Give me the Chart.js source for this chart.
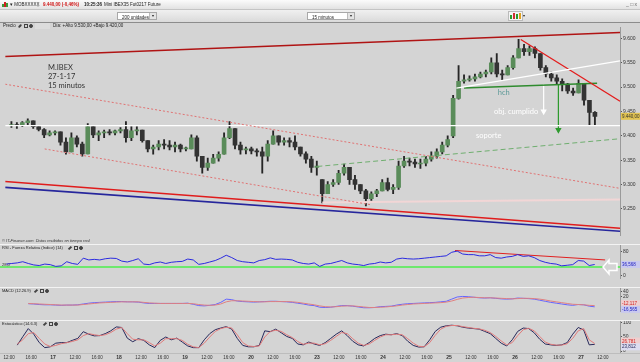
<!DOCTYPE html>
<html>
<head>
<meta charset="utf-8">
<script src="https://cdn.jsdelivr.net/npm/chart.js@4.4.1/dist/chart.umd.min.js"></script>
<style>
body{margin:0;background:#d4d4d4;font-family:"Liberation Sans",Arial,sans-serif;color:#222}
#wrap{position:relative;width:640px;height:362px;overflow:hidden}
canvas{position:absolute;left:0}
.a{position:absolute;white-space:nowrap;line-height:1}
.t{font-size:4.5px}
.box{position:absolute;background:#fff;border:1px solid #a8a8a8;font-size:4.5px;padding:1.5px 0 0 4px;box-sizing:border-box}
.dd{position:absolute;right:0;top:0;width:6px;height:6px;background:#e4e4e4;border-left:1px solid #bbb;font-size:4px;text-align:center}
.ico{position:absolute;width:4px;height:4px;border:1px solid #444;box-sizing:border-box}
.sep{position:absolute;left:0;width:640px;height:1px;background:#f3f3f3}
</style>
</head>
<body>
<div id="wrap">
  <canvas id="cPrice" width="640" height="222" style="top:22px"></canvas>
  <canvas id="cRsi" width="640" height="42" style="top:245px"></canvas>
  <canvas id="cMacd" width="640" height="32" style="top:288px"></canvas>
  <canvas id="cSto" width="640" height="41" style="top:321px"></canvas>

  <!-- toolbar -->
  <div class="a" style="left:0;top:0;width:640px;height:9px;background:linear-gradient(#fbfbfb,#e2e2e2);border-bottom:1px solid #c4c4c4"></div>
  <div class="a" style="left:0;top:10px;width:640px;height:12px;background:linear-gradient(#f0f0f0,#dadada);border-bottom:1px solid #8c8c8c"></div>
  <div class="a" style="left:2px;top:4px;width:2px;height:3px;background:#3a9a3a"></div>
  <div class="a" style="left:4px;top:2px;width:2px;height:5px;background:#d02020"></div>
  <div class="a" style="left:6px;top:3px;width:2px;height:4px;background:#3a9a3a"></div>
  <div class="a t" style="left:10px;top:2.5px">▾ MOBXXXXX</div>
  <div class="a t" style="left:37px;top:2.5px;color:#999">||</div>
  <div class="a t" style="left:43px;top:2.5px;font-weight:bold;color:#d01010">9.440,00 (-0,46%)</div>
  <div class="a t" style="left:84px;top:2.5px;font-weight:bold">10:25:36</div>
  <div class="a t" style="left:104px;top:2.5px">Mini IBEX35 Fut0217 Future</div>
  <div class="a" style="left:626px;top:2px;font-size:5px;color:#666">_ □ x</div>
  <div class="box" style="left:117px;top:12px;width:40px;height:8px">200 unidades<span class="dd">▾</span></div>
  <div class="box" style="left:307px;top:12px;width:48px;height:8px">15 minutos<span class="dd">▾</span></div>
  <div class="a" style="left:508px;top:11px;width:15px;height:10px;background:#f4f4f4;border:1px solid #bbb;box-sizing:border-box"></div>
  <div class="a" style="left:510px;top:15px;width:2px;height:4px;background:#2a9a2a"></div>
  <div class="a" style="left:513px;top:13px;width:2px;height:6px;background:#d03030"></div>
  <div class="a" style="left:516px;top:14px;width:2px;height:5px;background:#2a9a2a"></div>
  <div class="a" style="left:519px;top:13px;width:2px;height:6px;background:#e0a020"></div>
  <div class="a" style="left:523px;top:14px;font-size:4px">▾</div>

  <!-- panel headers -->
  <div class="a t" style="left:3px;top:24px">Precio</div>
  <div class="ico" style="left:19px;top:24px;border-radius:1px;transform:rotate(45deg);width:2px"></div>
  <div class="ico" style="left:24px;top:24px"></div>
  <div class="ico" style="left:29px;top:24px;border-radius:50%;background:#444"></div>
  <div class="a" style="left:35px;top:23px;width:15px;height:6px;background:#dcdcdc"></div>
  <div class="a t" style="left:53px;top:24px">Día: +Alto 9.530,00 +Bajo 9.420,00</div>
  <div class="a" style="left:2px;top:239px;font-size:4px;font-style:italic;color:#333">© IT-Finance.com&nbsp; Datos recibidos en tiempo real</div>

  <div class="sep" style="top:244px"></div>
  <div class="a" style="left:2px;top:246px;font-size:4px">RSI - Fuerza Relativa (Índice) (14)</div>
  <div class="ico" style="left:69px;top:246px;width:2px;transform:rotate(45deg)"></div>
  <div class="ico" style="left:74px;top:246px"></div>
  <div class="ico" style="left:79px;top:246px;border-radius:50%;background:#444"></div>

  <div class="sep" style="top:287px"></div>
  <div class="a" style="left:2px;top:289px;font-size:4px">MACD (12.26.9)</div>
  <div class="ico" style="left:35px;top:289px;width:2px;transform:rotate(45deg)"></div>
  <div class="ico" style="left:40px;top:289px"></div>
  <div class="ico" style="left:45px;top:289px;border-radius:50%;background:#444"></div>

  <div class="sep" style="top:320px"></div>
  <div class="a" style="left:2px;top:322px;font-size:4px">Estocástico (14.6.3)</div>
  <div class="ico" style="left:44px;top:322px;width:2px;transform:rotate(45deg)"></div>
  <div class="ico" style="left:49px;top:322px"></div>
  <div class="ico" style="left:54px;top:322px;border-radius:50%;background:#444"></div>
  <div class="sep" style="top:353px;background:#bdbdbd"></div>
</div>

<script>
// hours are counted from 16 Jan 08:00, 12 trading hours per session
const dayLabels = ['16', '17', '18', '19', '20', '23', '24', '25', '26', '27'];
const hourLabels = ['12:00', '16:00'];
const priceTicks = [9250, 9300, 9350, 9400, 9450, 9500, 9550, 9600];
const rsiTicks = [0, 20, 40, 60, 80, 100];
const macdTicks = [20, 40];
const stochTicks = [0, 50, 100];
const firstHour = 3;

const opens = [9421,9423,9421,9427,9431,9419,9413,9402,9406,
  9408,9387,9367,9396,9383,9363,9419,9402,9406,9408,9406,9410,
  9413,9396,9410,9412,9390,9373,9377,9383,9381,9377,9381,9373,
  9373,9396,9358,9335,9344,9354,9362,9396,9415,9381,9371,9373,
  9369,9367,9358,9383,9400,9387,9390,9387,9377,9363,9352,9335,
  9310,9281,9300,9304,9323,9335,9310,9300,9287,9271,9281,9287,
  9304,9290,9294,9338,9348,9346,9342,9344,9352,9358,9367,9381,
  9400,9477,9512,9515,9517,9521,9527,9531,9550,9527,9525,9540,
  9560,9579,9573,9579,9569,9540,9527,9519,9512,9506,9492,9488,
  9508,9473,9448];
const highs = [9429,9427,9429,9435,9431,9421,9415,9410,9410,
  9408,9396,9406,9400,9387,9425,9421,9410,9412,9413,9412,9417,
  9429,9419,9419,9412,9390,9381,9390,9392,9390,9387,9383,9377,
  9402,9400,9358,9354,9362,9367,9406,9429,9415,9387,9377,9377,
  9373,9377,9390,9410,9400,9396,9396,9400,9377,9367,9358,9348,
  9310,9306,9310,9329,9342,9335,9319,9300,9290,9285,9290,9310,
  9313,9300,9348,9358,9354,9352,9352,9358,9367,9373,9387,9400,
  9483,9544,9525,9523,9527,9531,9535,9560,9569,9535,9544,9565,
  9598,9588,9585,9583,9569,9544,9531,9525,9517,9508,9498,9515,
  9508,9473,9450];
const lows = [9417,9415,9419,9423,9415,9410,9396,9400,9402,
  9381,9362,9367,9377,9358,9363,9396,9390,9396,9402,9402,9406,
  9387,9390,9402,9387,9367,9362,9371,9373,9371,9367,9367,9369,
  9373,9348,9323,9329,9344,9348,9362,9394,9373,9362,9363,9363,
  9358,9323,9348,9383,9381,9381,9377,9371,9358,9344,9325,9319,
  9262,9281,9296,9300,9319,9300,9290,9281,9256,9267,9275,9287,
  9287,9281,9290,9335,9338,9335,9333,9338,9348,9354,9363,9377,
  9396,9475,9508,9512,9512,9519,9521,9527,9521,9515,9525,9537,
  9560,9565,9565,9560,9535,9521,9512,9506,9492,9487,9483,9488,
  9463,9421,9421];
const closes = [9423,9421,9427,9431,9419,9413,9402,9406,9408,
  9387,9367,9396,9383,9363,9419,9402,9406,9408,9406,9410,9413,
  9396,9410,9412,9390,9373,9377,9383,9381,9377,9381,9373,9373,
  9396,9358,9335,9344,9354,9362,9396,9415,9381,9371,9373,9369,
  9367,9358,9383,9400,9387,9390,9387,9377,9363,9352,9335,9338,
  9281,9300,9304,9323,9335,9310,9300,9287,9271,9281,9287,9304,
  9290,9294,9338,9348,9346,9342,9344,9352,9358,9367,9381,9392,
  9477,9512,9515,9517,9521,9527,9531,9550,9527,9525,9540,9560,
  9579,9573,9579,9569,9540,9527,9519,9512,9506,9492,9488,9508,
  9473,9448,9440];

const rsi = [38,40,42,46,40,35,33,38,36,
  30,32,46,40,37,58,52,54,52,56,58,57,
  48,45,50,56,38,36,42,45,40,44,46,47,
  55,52,37,40,45,50,58,68,60,50,46,44,
  42,50,53,59,54,55,54,52,44,40,38,42,
  30,38,40,45,50,42,38,36,33,38,40,45,
  42,44,55,58,56,55,56,58,60,62,64,66,
  78,82,72,70,70,66,66,70,60,58,62,64,
  70,64,66,60,50,44,40,38,32,34,36,50,
  48,33,36.568];
const rsiLevel = 28;
const rsiTrend = [[85.1, 84], [112.4, 52]];

const macd = [null,null,null,null,-5,-6,-8,-9,-9,
  -10,-11,-10,-10,-9,-6,-3,-1,0,1,2,3,
  3,2,2,1,-2,-4,-4,-4,-4,-4,-4,-4,
  -3,-7,-12,-13,-11,-8,0,12,10,5,3,2,
  1,2,3,4,4,3,2,0,-3,-6,-10,-12,
  -18,-19,-18,-15,-12,-12,-14,-17,-20,-20,-19,-16,
  -15,-14,-10,-7,-5,-4,-3,-2,-1,0,2,4,
  12,20,22,21,19,17,16,17,15,13,12,13,
  16,15,14,12,8,4,0,-3,-6,-9,-11,-8,
  -9,-14,-16.565];
const macdSignal = [null,null,null,null,-4,-5,-6,-7,-8,
  -9,-10,-10,-10,-10,-8,-6,-4,-2,-1,0,1,
  2,2,2,2,0,-2,-3,-4,-4,-4,-4,-4,
  -4,-5,-8,-10,-11,-10,-6,2,6,6,5,4,
  3,2,2,3,3,3,3,2,0,-3,-6,-9,
  -13,-16,-17,-16,-14,-13,-13,-15,-17,-19,-19,-18,
  -17,-15,-13,-10,-8,-6,-5,-4,-3,-2,-1,1,
  5,11,16,18,19,18,17,17,16,15,14,13,
  14,15,15,14,12,9,5,2,-1,-4,-7,-8,
  -9,-11,-12.117];

const stochK = [null,null,21,51,80,60,30,12,15,
  28,30,30,38,45,69,60,54,55,62,72,86,
  84,46,33,44,38,22,12,38,50,40,46,32,
  18,12,12,40,62,76,82,87,78,45,20,15,
  15,20,72,69,78,65,52,45,25,22,32,25,
  20,30,45,60,72,55,35,22,18,30,45,55,
  60,58,62,55,35,20,14,15,40,70,85,90,
  92,90,85,82,80,78,70,62,45,28,18,40,
  70,82,80,65,42,25,22,20,22,30,60,84,
  75,22,23.812];
const stochD = [null,null,25,40,62,66,45,25,16,
  20,26,30,34,40,55,62,58,55,58,66,78,
  84,62,42,40,40,30,18,28,44,44,44,38,
  24,15,12,28,50,70,80,85,82,58,30,18,
  16,18,50,70,74,70,58,48,34,24,28,28,
  22,26,38,52,66,62,44,28,20,25,38,50,
  58,58,60,58,44,28,17,15,30,56,78,88,
  91,91,87,84,81,79,74,66,52,36,22,30,
  55,76,81,72,52,32,24,21,21,26,45,72,
  80,40,26.781];

// drawn lines: [hour, price] end points
const topChannel = [[2.36, 9563], [115.1, 9612]];
const fallLine = [[96.9, 9598], [115.1, 9471]];
const riseLine = [[85.1, 9498], [115.1, 9554]];
const neckLine = [[86.5, 9498], [110.9, 9508]];
const supportLine = [[2.36, 9421], [115.1, 9421]];
const greenDashed = [[59.6, 9337], [115.1, 9394]];
const dotUpper = [[2.36, 9506], [115.1, 9292]];
const dotLower = [[9.6, 9373], [69.6, 9258]];
const pinkLine = [[60.5, 9263], [115.1, 9269]];
const redLow = [[2.36, 9306], [115.1, 9210]];
const blueLow = [[2.36, 9294], [115.1, 9204]];
const whiteArrow = [[101.1, 9506], [101.1, 9450]];
const greenArrow = [[103.8, 9506], [103.8, 9412]];

const notes = [
  { text: 'M.IBEX', x: 10.2, y: 9540, color: '#333' },
  { text: '27-1-17', x: 10.2, y: 9522, color: '#333' },
  { text: '15 minutos', x: 10.2, y: 9503, color: '#333' },
  { text: 'hch', x: 92.7, y: 9488, color: '#5e9a98' },
  { text: 'obj. cumplido', x: 92.0, y: 9450, color: '#ffffff' },
  { text: 'soporte', x: 88.7, y: 9400, color: '#ffffff' }
];

const xMin = 2.36, xMax = 115.1;
const F = '"Liberation Sans", Arial, sans-serif';
const hourX = closes.map((_, i) => firstHour + i + 0.5);

function fmtNum(v, dec) {
  const s = Math.abs(v).toFixed(dec).split('.');
  let n = s[0];
  if (n.length > 3) n = n.slice(0, -3) + '.' + n.slice(-3);
  return (v < 0 ? '-' : '') + n + (dec ? ',' + s[1] : '');
}

function seg(pts, color, width, dash) {
  return {
    type: 'line', data: pts.map(p => ({ x: p[0], y: p[1] })),
    borderColor: color, borderWidth: width, borderDash: dash || [],
    pointRadius: 0, fill: false, clip: 0, order: 1
  };
}
function arrow(pts, color) {
  const d = seg(pts, color, 1.2);
  d.pointRadius = [0, 2.5];
  d.pointStyle = 'triangle';
  d.rotation = 180;
  d.pointBackgroundColor = color;
  d.pointBorderColor = color;
  return d;
}
function series(vals, color) {
  return {
    type: 'line', data: vals.map((v, i) => ({ x: hourX[i], y: v })),
    borderColor: color, borderWidth: 1, pointRadius: 0, fill: false, tension: 0, clip: 0
  };
}

// text notes, value tags and the RSI arrow
const overlay = {
  id: 'overlay',
  afterDatasetsDraw(chart, args, opts) {
    const { ctx, scales: { x, y } } = chart;
    ctx.save();
    (opts.notes || []).forEach(n => {
      ctx.font = n.font || '7.5px Lato, sans-serif';
      ctx.fillStyle = n.color;
      ctx.textBaseline = 'middle';
      ctx.textAlign = 'left';
      ctx.fillText(n.text, n.px !== undefined ? n.px : x.getPixelForValue(n.x), y.getPixelForValue(n.y));
    });
    if (opts.arrow !== undefined) {
      const cy = y.getPixelForValue(opts.arrow), r = chart.chartArea.right;
      ctx.beginPath();
      ctx.moveTo(r - 17, cy);
      ctx.lineTo(r - 11, cy - 7);
      ctx.lineTo(r - 11, cy - 3.5);
      ctx.lineTo(r - 3, cy - 3.5);
      ctx.lineTo(r - 3, cy + 3.5);
      ctx.lineTo(r - 11, cy + 3.5);
      ctx.lineTo(r - 11, cy + 7);
      ctx.closePath();
      ctx.fillStyle = '#d4d4d4';
      ctx.fill();
      ctx.strokeStyle = '#ffffff';
      ctx.lineWidth = 1.5;
      ctx.stroke();
    }
    ctx.restore();
  },
  afterDraw(chart, args, opts) {
    const { ctx, scales: { y } } = chart;
    ctx.save();
    (opts.tags || []).forEach(t => {
      const py = y.getPixelForValue(t.value) + (t.dy || 0);
      ctx.fillStyle = t.bg;
      ctx.fillRect(621, py - 3.5, 19, 7);
      ctx.fillStyle = t.fg;
      ctx.font = '4.5px ' + F;
      ctx.textBaseline = 'middle';
      ctx.textAlign = 'left';
      ctx.fillText(t.text, 622, py + 0.3);
    });
    ctx.restore();
  }
};
Chart.register(overlay);

function yScale(min, max, ticks, fmt) {
  return {
    position: 'right', min: min, max: max,
    afterBuildTicks: s => { s.ticks = ticks.map(v => ({ value: v })); },
    afterFit: s => { s.width = 20; s.paddingTop = 0; s.paddingBottom = 0; },
    ticks: { font: { family: F, size: 5 }, color: '#333', padding: 1, callback: fmt },
    grid: { drawOnChartArea: false, drawTicks: true, tickLength: 2, color: '#555' },
    border: { display: true, color: '#9a9a9a' }
  };
}

const xTicks = [];
dayLabels.forEach((d, i) => [0, 4, 8].forEach(h => {
  const v = i * 12 + h;
  if (v >= xMin && v <= xMax) xTicks.push(v);
}));

function xScale(show) {
  return {
    type: 'linear', min: xMin, max: xMax, offset: false, display: show,
    afterBuildTicks: s => { s.ticks = xTicks.map(v => ({ value: v })); },
    afterFit: s => { s.height = 9; s.paddingLeft = 0; s.paddingRight = 0; },
    grid: { display: false, drawTicks: false },
    border: { display: false },
    ticks: {
      autoSkip: false, maxRotation: 0, padding: 2, color: '#333',
      font: c => ({ family: F, size: c.tick && c.tick.value % 12 === 0 ? 5 : 4.5, weight: c.tick && c.tick.value % 12 === 0 ? 'bold' : 'normal' }),
      callback: v => v % 12 === 0 ? dayLabels[v / 12] : hourLabels[(v % 12) / 4 - 1]
    }
  };
}

function baseOptions(x, y, overlayOpts) {
  return {
    animation: false, responsive: false, maintainAspectRatio: false,
    layout: { padding: 0 },
    plugins: { legend: { display: false }, tooltip: { enabled: false }, overlay: overlayOpts },
    scales: { x: x, y: y }
  };
}

// price panel
new Chart(document.getElementById('cPrice'), {
  type: 'bar',
  data: {
    datasets: [
      {
        data: closes.map((c, i) => ({ x: hourX[i], y: [lows[i], highs[i]] })),
        backgroundColor: '#262626', barThickness: 1.2, grouped: false, order: 10
      },
      {
        data: closes.map((c, i) => ({ x: hourX[i], y: [opens[i], c] })),
        backgroundColor: c => closes[c.dataIndex] >= opens[c.dataIndex] ? '#5a8c5a' : '#333333',
        barThickness: 4, grouped: false, minBarLength: 1, order: 9
      },
      seg(dotUpper, '#e07272', 1, [2, 2]),
      seg(dotLower, '#e07272', 1, [2, 2]),
      seg(greenDashed, '#6fae6f', 1, [5, 3]),
      seg(pinkLine, '#f2d6d6', 2),
      seg(redLow, '#e01c1c', 1.6),
      seg(blueLow, '#26269c', 1.6),
      seg(topChannel, '#b01414', 1.5),
      seg(supportLine, '#ffffff', 1.3),
      seg(riseLine, '#ffffff', 1.2),
      seg(fallLine, '#e41c1c', 1.2),
      seg(neckLine, '#2e8b2e', 1.5),
      arrow(whiteArrow, '#ffffff'),
      arrow(greenArrow, '#2e9a2e')
    ]
  },
  options: baseOptions(xScale(false), yScale(9196.2, 9623.1, priceTicks, v => fmtNum(v, 0)), {
    notes: notes,
    tags: [{ value: closes[closes.length - 1], text: fmtNum(closes[closes.length - 1], 2), bg: '#e2c452', fg: '#333' }]
  })
});

// RSI panel
new Chart(document.getElementById('cRsi'), {
  type: 'line',
  data: {
    datasets: [
      seg([[xMin, rsiLevel], [xMax, rsiLevel]], '#6ee86e', 2),
      seg(rsiTrend, '#e02020', 1),
      series(rsi, '#2a2ae0')
    ]
  },
  options: baseOptions(xScale(false), yScale(-9.3, 102.7, rsiTicks, v => v), {
    notes: [{ text: fmtNum(rsiLevel, 1), px: 2, y: rsiLevel + 6, color: '#333', font: '4px ' + F }],
    arrow: rsiLevel,
    tags: [{ value: rsi[rsi.length - 1], text: fmtNum(rsi[rsi.length - 1], 3), bg: '#c9c9ef', fg: '#2020c0' }]
  })
});

// MACD panel
new Chart(document.getElementById('cMacd'), {
  type: 'line',
  data: { datasets: [series(macdSignal, '#e08080'), series(macd, '#6464ff')] },
  options: baseOptions(xScale(false), yScale(-32, 53.3, macdTicks, v => v), {
    tags: [
      { value: macdSignal[macdSignal.length - 1], dy: -2, text: fmtNum(macdSignal[macdSignal.length - 1], 3), bg: '#efcfcf', fg: '#d02020' },
      { value: macd[macd.length - 1], dy: 2.5, text: fmtNum(macd[macd.length - 1], 3), bg: '#c9c9ef', fg: '#2020c0' }
    ]
  })
});

// stochastic panel
new Chart(document.getElementById('cSto'), {
  type: 'line',
  data: { datasets: [series(stochD, '#e07a7a'), series(stochK, '#28285a')] },
  options: baseOptions(xScale(true), yScale(-7.1, 107.1, stochTicks, v => v), {
    tags: [
      { value: stochD[stochD.length - 1], dy: -2.5, text: fmtNum(stochD[stochD.length - 1], 3), bg: '#efcfcf', fg: '#d02020' },
      { value: stochK[stochK.length - 1], dy: 2.5, text: fmtNum(stochK[stochK.length - 1], 3), bg: '#dcdcf0', fg: '#28285a' }
    ]
  })
});
</script>
</body>
</html>
